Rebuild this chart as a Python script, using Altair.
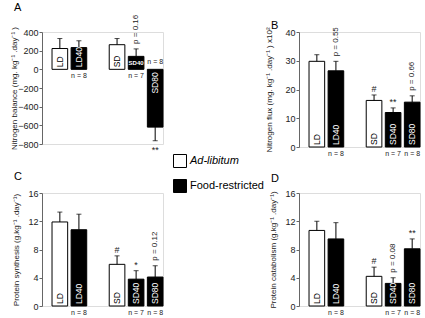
import altair as alt
import pandas as pd

FONT = "Liberation Sans"

groups = ["LD", "LD40", "SD", "SD40", "SD80"]
diets = ["Ad-libitum", "Food-restricted", "Ad-libitum", "Food-restricted", "Food-restricted"]
n_labels = ["", "n = 8", "", "n = 7", "n = 8"]

a_mean = [223, 233, 264, 139, -619]
a_sem = [107, 73, 66, 80, 146]
a_sym = ["", "", "", "", "**"]
a_p = ["", "", "", "p = 0.16", ""]

b_mean = [29.8, 26.5, 16.2, 12.0, 15.6]
b_sem = [2.3, 3.3, 1.9, 1.6, 2.2]
b_sym = ["", "", "#", "**", ""]
b_p = ["", "p = 0.55", "", "", "p = 0.66"]

c_mean = [11.9, 10.8, 5.9, 3.8, 4.1]
c_sem = [1.4, 2.2, 1.2, 1.2, 1.6]
c_sym = ["", "", "#", "*", ""]
c_p = ["", "", "", "", "p = 0.12"]

d_mean = [10.7, 9.5, 4.2, 3.2, 8.1]
d_sem = [1.3, 2.3, 1.3, 0.8, 1.4]
d_sym = ["", "", "#", "", "**"]
d_p = ["", "", "", "p = 0.08", ""]

x_domain = ["LD", "LD40", "gap", "SD", "SD40", "SD80"]
legend_domain = ["Ad-libitum", "Food-restricted"]

legend = alt.Legend(
    title=None, orient="none", legendX=131, legendY=122,
    symbolType="square", symbolSize=169, symbolStrokeColor="black",
    symbolStrokeWidth=1, symbolOpacity=1, labelFontSize=11, labelFont=FONT,
    labelColor="black", rowPadding=7, labelOffset=3,
    labelFontStyle=alt.ExprRef("datum.value == 'Ad-libitum' ? 'italic' : 'normal'"),
)

W = 121


def make_panel(letter, ytitle, mean, sem, sym, pv, dom, step, h, tpad, toff, tdy, horiz=()):
    df = pd.DataFrame(dict(group=groups, diet=diets, mean=mean, sem=sem,
                           sym=sym, p=pv, n=n_labels))
    base = alt.Chart(df).transform_calculate(
        tip="datum.mean >= 0 ? datum.mean + datum.sem : datum.mean - datum.sem",
        zero="0",
        mid="datum.mean / 2",
    )
    ticks = list(range(dom[0], dom[1] + 1, step))
    yscale = alt.Scale(domain=dom, nice=False)
    yaxis = alt.Axis(values=ticks, grid=False, tickSize=3, labelPadding=1,
                     domainColor="#666", tickColor="#666", labelFontSize=9,
                     labelColor="#222", labelFont=FONT, titleFont=FONT,
                     titleFontSize=8, titleFontWeight="normal", titleColor="#222",
                     titlePadding=tpad)

    def Y(f):
        return alt.Y(f, scale=yscale, axis=yaxis, title=ytitle)

    X = alt.X("group:N", axis=None,
              scale=alt.Scale(domain=x_domain, paddingInner=0.18,
                              paddingOuter=0.263, align=1))
    txtcol = alt.condition("datum.diet == 'Ad-libitum'", alt.value("black"), alt.value("white"))
    hz = "[" + ",".join("'" + g + "'" for g in horiz) + "]"

    bars = base.mark_bar(stroke="black", strokeWidth=1).encode(
        x=X, y=Y("mean:Q"),
        fill=alt.Fill("diet:N", scale=alt.Scale(domain=legend_domain, range=["white", "black"]),
                      legend=legend),
    )
    rules = base.mark_rule(color="black", strokeWidth=1).encode(x=X, y=Y("mean:Q"), y2="tip:Q")
    caps = base.mark_tick(color="black", size=5, thickness=1).encode(x=X, y=Y("tip:Q"))

    lab_pos = base.transform_filter(f"datum.mean >= 0 && indexof({hz}, datum.group) < 0").mark_text(
        angle=270, align="left", baseline="middle", dx=2, fontSize=8.5, font=FONT
    ).encode(x=X, y=Y("zero:Q"), text="group:N", color=txtcol)
    lab_neg = base.transform_filter(f"datum.mean < 0 && indexof({hz}, datum.group) < 0").mark_text(
        angle=270, align="right", baseline="middle", dx=-3, fontSize=8.5, font=FONT
    ).encode(x=X, y=Y("zero:Q"), text="group:N", color=txtcol)
    lab_hz = base.transform_filter(f"indexof({hz}, datum.group) >= 0").mark_text(
        align="center", baseline="middle", fontSize=6, font=FONT, fontWeight="bold"
    ).encode(x=X, y=Y("mid:Q"), text="group:N", color=txtcol)

    n_pos = base.transform_filter("datum.mean >= 0").mark_text(
        align="center", baseline="middle", dy=7, fontSize=7, font=FONT, color="#222"
    ).encode(x=X, y=Y("zero:Q"), text="n:N")
    n_neg = base.transform_filter("datum.mean < 0").mark_text(
        align="center", baseline="middle", dy=-7, fontSize=7, font=FONT, color="#222"
    ).encode(x=X, y=Y("zero:Q"), text="n:N")

    sym_pos = base.transform_filter("datum.mean >= 0").mark_text(
        align="center", baseline="middle", dy=-6, fontSize=9, font=FONT, color="#222"
    ).encode(x=X, y=Y("tip:Q"), text="sym:N")
    sym_neg = base.transform_filter("datum.mean < 0").mark_text(
        align="center", baseline="middle", dy=9, fontSize=9, font=FONT, color="#222"
    ).encode(x=X, y=Y("tip:Q"), text="sym:N")
    p_txt = base.mark_text(
        angle=270, align="left", baseline="middle", dx=5, fontSize=8, font=FONT, color="#222"
    ).encode(x=X, y=Y("tip:Q"), text="p:N")

    return alt.layer(bars, rules, caps, lab_pos, lab_neg, lab_hz, n_pos, n_neg,
                     sym_pos, sym_neg, p_txt).properties(
        width=W, height=h,
        title=alt.TitleParams(letter, anchor="start", frame="group", dx=-28, dy=tdy,
                              offset=toff, fontSize=11, fontWeight="normal",
                              font=FONT, color="black"),
    )


pA = make_panel("A", "Nitrogen balance (mg. kg⁻¹ .day⁻¹ )", a_mean, a_sem, a_sym, a_p,
                [-800, 400], 200, 112, -1, 4, 2, horiz=("SD40",))
pB = make_panel("B", "Nitrogen flux (mg. kg⁻¹ .day⁻¹ ) x10²", b_mean, b_sem, b_sym, b_p,
                [0, 40], 10, 115, 11, 4, 8)
pC = make_panel("C", "Protein synthesis (g.kg⁻¹ .day⁻¹)", c_mean, c_sem, c_sym, c_p,
                [0, 16], 4, 113, 7, 12, 5)
pD = make_panel("D", "Protein catabolism (g.kg⁻¹ .day⁻¹)", d_mean, d_sem, d_sym, d_p,
                [0, 16], 4, 113, 7, 11, 6)

chart = alt.concat(pA, pB, pC, pD, columns=2, spacing={"row": 46, "column": 136},
                   bounds="flush").properties(
    padding={"left": 10, "top": 1, "right": 0, "bottom": 0}
).configure_view(stroke=None).configure(font=FONT)

chart.save("out.html", embed_options={"renderer": "svg", "actions": False})
